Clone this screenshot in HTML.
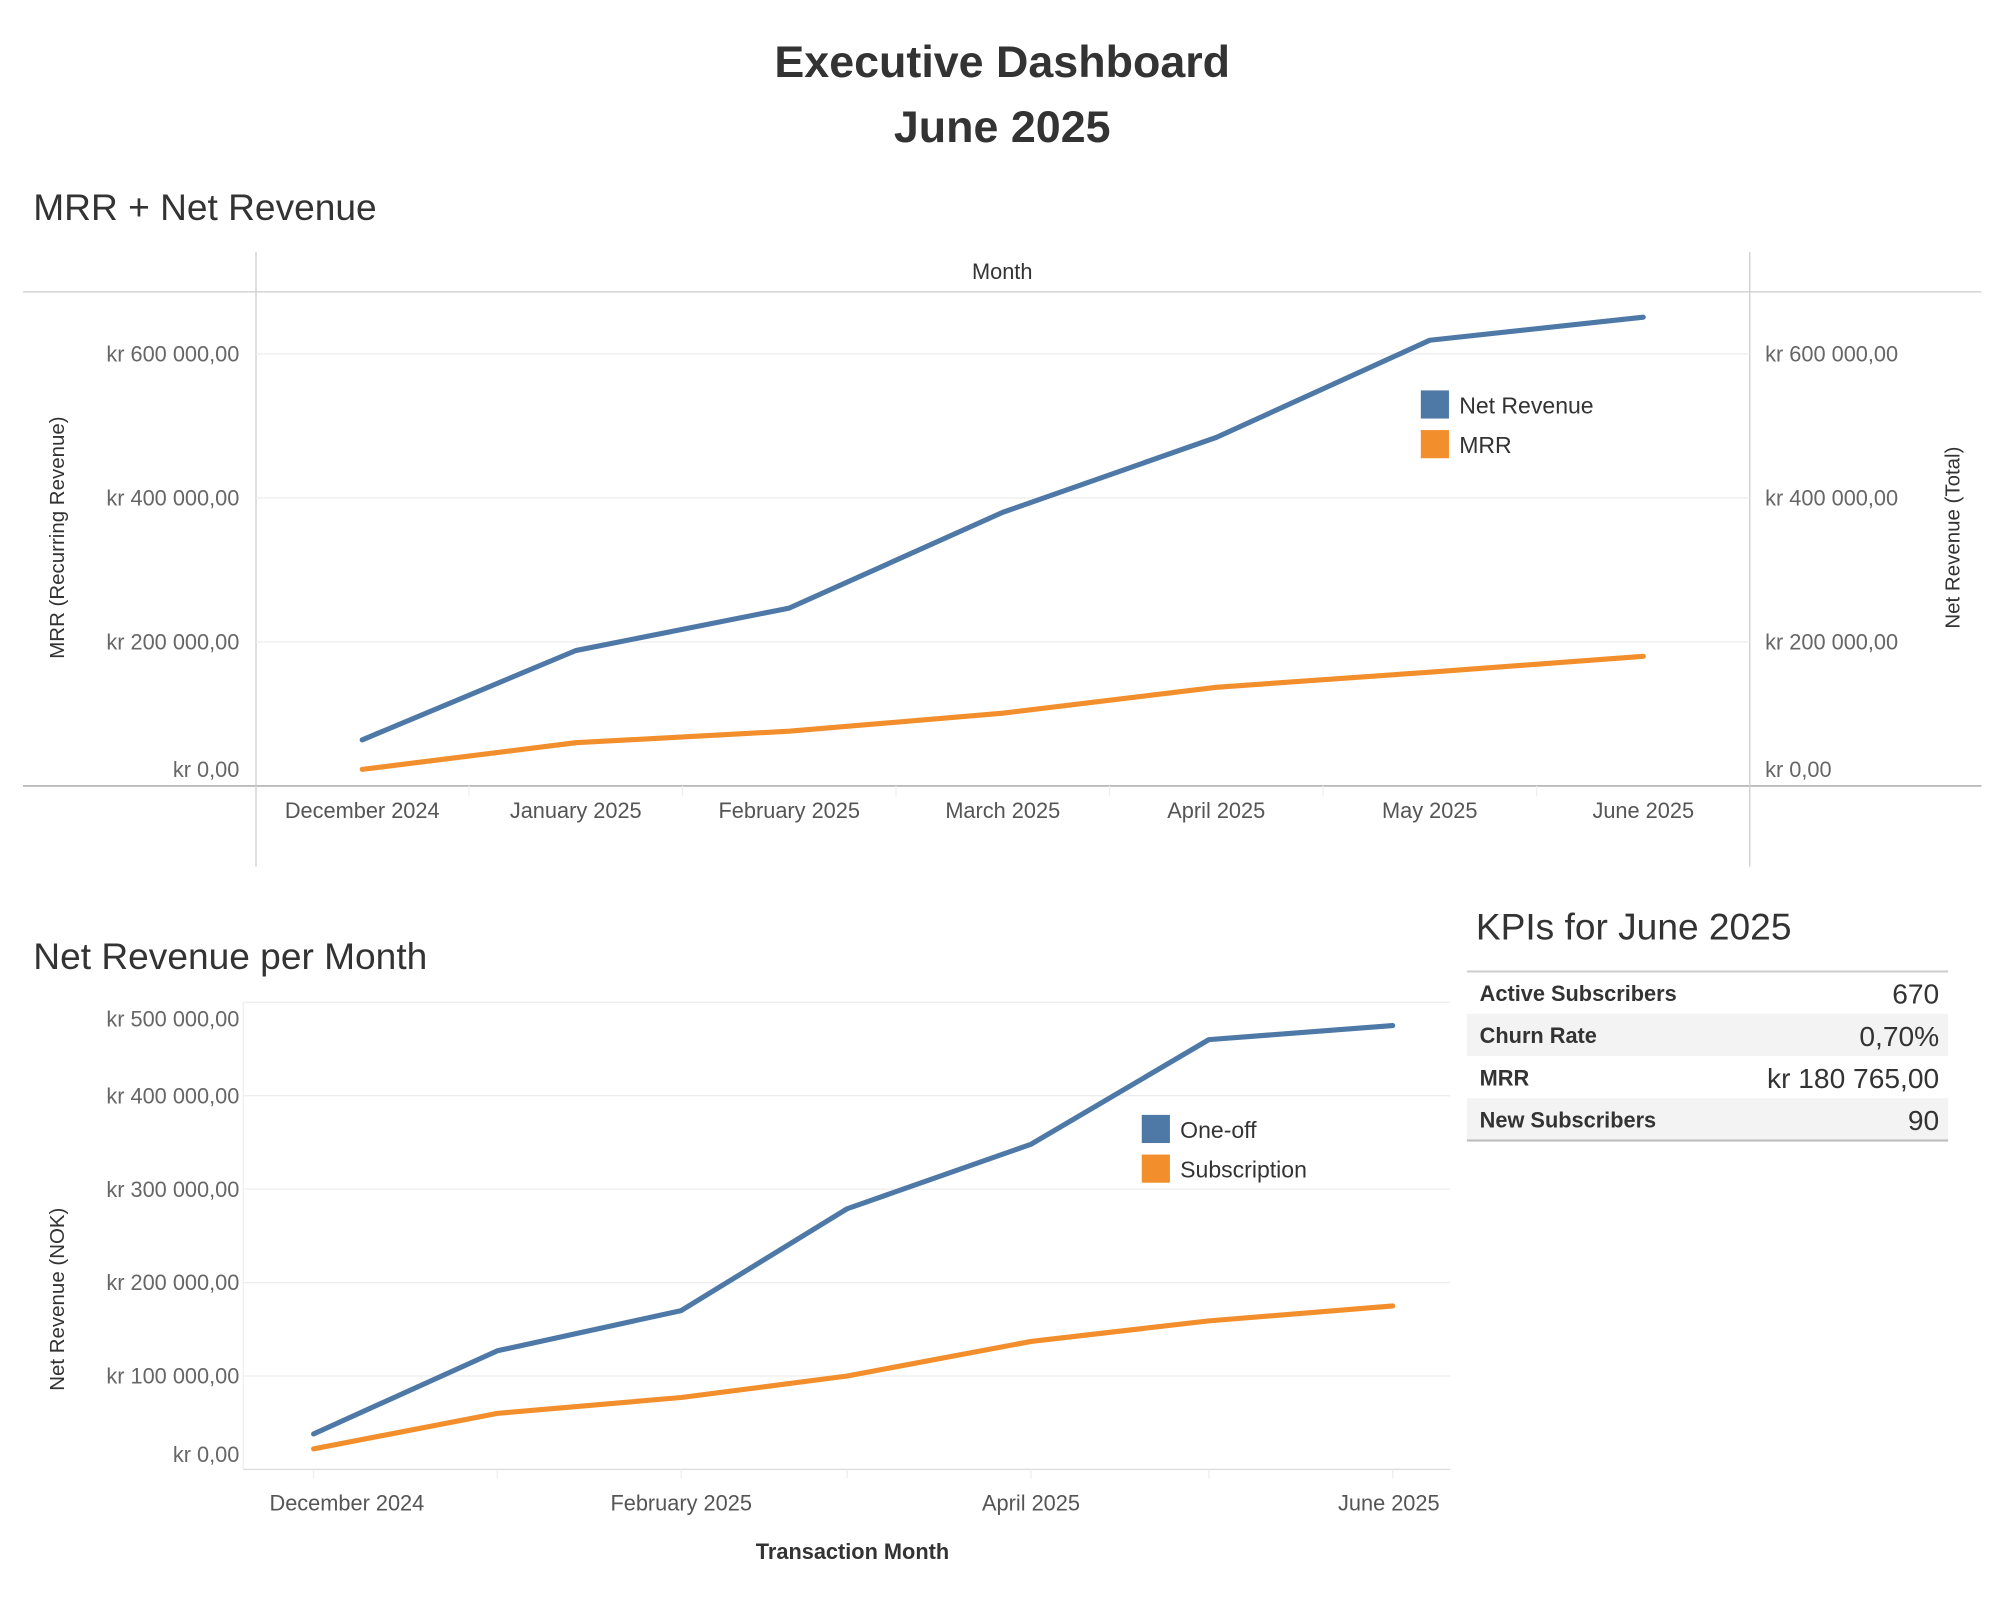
<!DOCTYPE html>
<html><head><meta charset="utf-8"><style>
html,body{margin:0;padding:0;background:#fff;}
svg{display:block;font-family:"Liberation Sans",sans-serif;}
</style></head><body>
<svg id="root" width="2000" height="1600" viewBox="0 0 1562.5 1250">
<text x="783" y="60" text-anchor="middle" font-size="35" font-weight="bold" fill="#333">Executive Dashboard</text>
<text x="783" y="111" text-anchor="middle" font-size="35" font-weight="bold" fill="#333">June 2025</text>
<text x="26" y="172" font-size="29" fill="#333">MRR + Net Revenue</text>
<g id="topchart"></g>
<text x="26" y="757" font-size="29" fill="#333">Net Revenue per Month</text>
<g id="botchart"></g>
<text x="1153" y="734" font-size="29" fill="#333">KPIs for June 2025</text>
<g>
<rect x="1146" y="792" width="376" height="33" fill="#f3f3f3"/>
<rect x="1146" y="858" width="376" height="33" fill="#f3f3f3"/>
<line x1="1146" y1="759" x2="1522" y2="759" stroke="#ccc" stroke-width="1.5"/>
<line x1="1146" y1="891" x2="1522" y2="891" stroke="#bbb" stroke-width="1.5"/>
<g font-size="17" font-weight="bold" fill="#333">
<text x="1156" y="782">Active Subscribers</text>
<text x="1156" y="815">Churn Rate</text>
<text x="1156" y="848">MRR</text>
<text x="1156" y="881">New Subscribers</text>
</g>
<g font-size="22" fill="#333" text-anchor="end">
<text x="1515" y="784">670</text>
<text x="1515" y="817">0,70%</text>
<text x="1515" y="850">kr 180 765,00</text>
<text x="1515" y="883">90</text>
</g>
</g>
</svg>
<script>
// Top chart data
const topMonths = ["December 2024","January 2025","February 2025","March 2025","April 2025","May 2025","June 2025"];
const topNetRevenue = [64000,188000,247000,380000,484000,619000,651000];
const topMRR = [23000,60000,76000,101000,137000,158000,180000];
const topTicks = [0,200000,400000,600000];
const topTickLabels = ["kr 0,00","kr 200 000,00","kr 400 000,00","kr 600 000,00"];
// Bottom chart data
const botDays = [0,31,62,90,121,151,182];
const botOneOff = [38000,127000,170000,279000,348000,460000,475000];
const botSubscription = [22000,60000,77000,100000,137000,159000,175000];
const botTicks = [0,100000,200000,300000,400000,500000];
const botTickLabels = ["kr 0,00","kr 100 000,00","kr 200 000,00","kr 300 000,00","kr 400 000,00","kr 500 000,00"];
const botXLabels = ["December 2024","February 2025","April 2025","June 2025"];
const botXLabelDays = [0,62,121,182];

const NS="http://www.w3.org/2000/svg";
function mk(parent,tag,attrs,text){const e=document.createElementNS(NS,tag);for(const k in attrs)e.setAttribute(k,attrs[k]);if(text!==undefined)e.textContent=text;parent.appendChild(e);return e;}
const BLUE="#4e79a7",ORANGE="#f28e2b";
function line(g,xs,ys,color,name){
  const p=mk(g,'polyline',{points:xs.map((x,i)=>x+','+ys[i]).join(' '),fill:'none',stroke:color,'stroke-width':4,'stroke-linejoin':'round','stroke-linecap':'round'});
  
  
}
function legend(g,x,y,items){
  items.forEach((it,i)=>{
    const r=mk(g,'rect',{x:x,y:y+i*31,width:22,height:22,fill:it[1]});
    
    
    const s=mk(g,'text',{x:x+30,y:y+i*31+18,'font-size':18,fill:'#333'},it[0]);
    
    
  });
}

// ---- Top chart ----
const topG=document.getElementById('topchart');
const tY=v=>614-v/200000*112.5;
const tX=i=>283+i*166.8;
mk(topG,'line',{x1:18,y1:228,x2:1548,y2:228,stroke:'#ccc'});
mk(topG,'line',{x1:18,y1:614,x2:1548,y2:614,stroke:'#bbb','stroke-width':1.5});
mk(topG,'line',{x1:200,y1:197,x2:200,y2:677,stroke:'#ccc'});
mk(topG,'line',{x1:1367,y1:197,x2:1367,y2:677,stroke:'#ccc'});
let t=mk(topG,'text',{x:783,y:218,'text-anchor':'middle','font-size':17,fill:'#333'},'Month');


topTicks.forEach((v,i)=>{
  if(v>0){mk(topG,'line',{x1:200,y1:tY(v),x2:1367,y2:tY(v),stroke:'#eee'});}
  const ly=v===0?607:tY(v)+6;
  const a=mk(topG,'text',{x:187,y:ly,'text-anchor':'end','font-size':17,fill:'#666'},topTickLabels[i]);
  
  
  const b=mk(topG,'text',{x:1379,y:ly,'font-size':17,fill:'#666'},topTickLabels[i]);
  
  
});
topMonths.forEach((m,i)=>{
  const a=mk(topG,'text',{x:tX(i),y:639,'text-anchor':'middle','font-size':17,fill:'#555'},m);
  
  
  if(i>0)mk(topG,'line',{x1:tX(i)-83.4,y1:614,x2:tX(i)-83.4,y2:622,stroke:'#eee'});
});
t=mk(topG,'text',{x:0,y:0,transform:'translate(50,420) rotate(-90)','text-anchor':'middle','font-size':16,fill:'#333'},'MRR (Recurring Revenue)');


t=mk(topG,'text',{x:0,y:0,transform:'translate(1531,420) rotate(-90)','text-anchor':'middle','font-size':16,fill:'#333'},'Net Revenue (Total)');


line(topG,topMonths.map((_,i)=>tX(i)),topMRR.map(tY),ORANGE,'mrr-line');
line(topG,topMonths.map((_,i)=>tX(i)),topNetRevenue.map(tY),BLUE,'net-revenue-line');
legend(topG,1110,305,[["Net Revenue",BLUE],["MRR",ORANGE]]);

// ---- Bottom chart ----
const botG=document.getElementById('botchart');
const bY=v=>1148-v/100000*73;
const bX=d=>245+d*4.632;
mk(botG,'line',{x1:190,y1:783,x2:1133,y2:783,stroke:'#eee'});
mk(botG,'line',{x1:190,y1:783,x2:190,y2:1148,stroke:'#eee'});
mk(botG,'line',{x1:190,y1:1148,x2:1133,y2:1148,stroke:'#ddd'});
botTicks.forEach((v,i)=>{
  if(v>0&&v<500000)mk(botG,'line',{x1:190,y1:bY(v),x2:1133,y2:bY(v),stroke:'#eee'});
  let ly=bY(v)+6; if(v===0)ly=1142; if(v===500000)ly=802;
  const a=mk(botG,'text',{x:187,y:ly,'text-anchor':'end','font-size':17,fill:'#666'},botTickLabels[i]);
  
  
});
botDays.forEach(d=>mk(botG,'line',{x1:bX(d),y1:1148,x2:bX(d),y2:1155,stroke:'#eee'}));
botXLabels.forEach((l,i)=>{
  let x=bX(botXLabelDays[i]); if(i===0)x=271; if(i===botXLabels.length-1)x=1085;
  const a=mk(botG,'text',{x:x,y:1180,'text-anchor':'middle','font-size':17,fill:'#555'},l);
  
  
});
t=mk(botG,'text',{x:666,y:1218,'text-anchor':'middle','font-size':17,'font-weight':'bold',fill:'#333'},'Transaction Month');


t=mk(botG,'text',{x:0,y:0,transform:'translate(50,1015) rotate(-90)','text-anchor':'middle','font-size':16,fill:'#333'},'Net Revenue (NOK)');


line(botG,botDays.map(bX),botSubscription.map(bY),ORANGE,'subscription-line');
line(botG,botDays.map(bX),botOneOff.map(bY),BLUE,'one-off-line');
legend(botG,892,871,[["One-off",BLUE],["Subscription",ORANGE]]);
</script>
</body></html>
